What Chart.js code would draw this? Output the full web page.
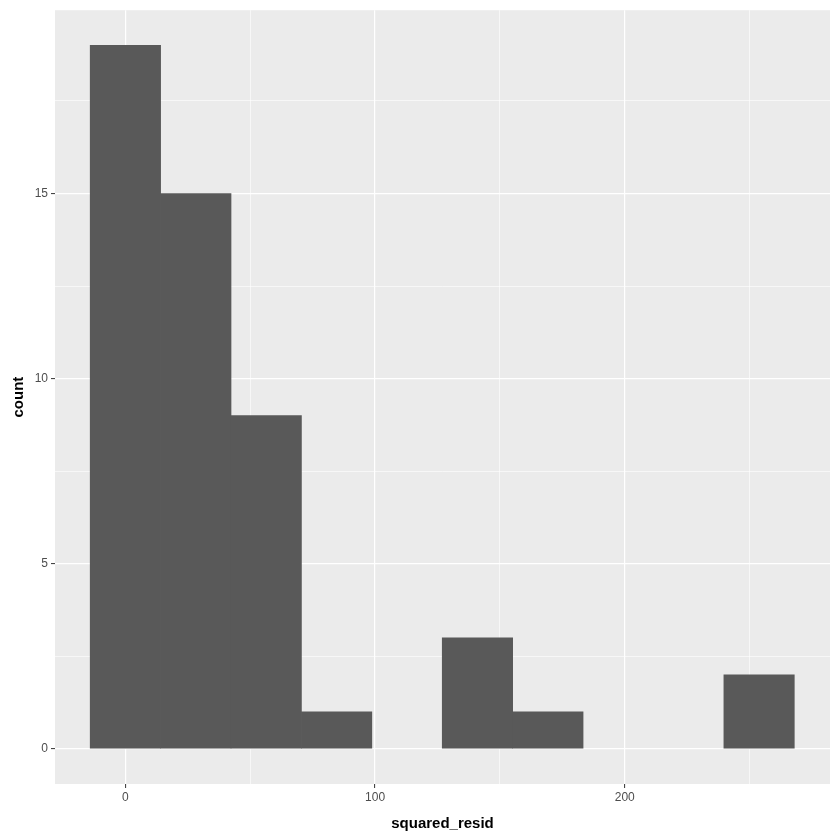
<!DOCTYPE html>
<html>
<head>
<meta charset="utf-8">
<script src="https://cdn.jsdelivr.net/npm/chart.js@4"></script>
<style>
  body { margin: 0; background: #fff; }
</style>
</head>
<body>
<canvas id="hist" width="840" height="840"></canvas>
<script>
// bin centres of the histogram (bin width ~28.2)
const binCenters = [0, 28.2, 56.4, 84.6, 112.8, 141.0, 169.2, 197.4, 225.6, 253.8];
const counts = [19, 15, 9, 1, 0, 3, 1, 0, 0, 2];

const xTicks = [0, 50, 100, 150, 200, 250];
const xLabels = [0, 100, 200];
const yTicks = [0, 2.5, 5, 7.5, 10, 12.5, 15, 17.5];
const yLabels = [0, 5, 10, 15];

const panelBg = {
    id: 'panelBg',
    beforeDraw(chart) {
        const a = chart.chartArea;
        const ctx = chart.ctx;
        ctx.save();
        ctx.fillStyle = '#EBEBEB';
        ctx.fillRect(a.left, a.top, a.right - a.left, a.bottom - a.top);
        ctx.restore();
    }
};

const tickFont = { family: '"Liberation Sans", Arial, sans-serif', size: 12 };
const titleFont = { family: '"Liberation Sans", Arial, sans-serif', size: 15, weight: 'bold' };

const config = {
    type: 'bar',
    data: {
        datasets: [{
            label: 'count',
            data: binCenters.map((x, i) => ({ x: x, y: counts[i] })),
            // empty bins draw nothing
            backgroundColor: c => (c.raw && c.raw.y > 0 ? '#595959' : 'rgba(0,0,0,0)'),
            borderWidth: 0,
            barPercentage: 1,
            categoryPercentage: 1
        }]
    },
    options: {
        responsive: false,
        animation: false,
        layout: { padding: { top: 9, right: 10, left: 0, bottom: 0 } },
        plugins: {
            legend: { display: false },
            tooltip: { enabled: false }
        },
        scales: {
            x: {
                type: 'linear',
                min: -28.2,
                max: 282.2,
                offset: false,
                afterBuildTicks: s => { s.ticks = xTicks.map(v => ({ value: v })); },
                afterFit: s => { s.height = 56; },
                border: { display: false },
                grid: {
                    offset: false,
                    color: '#FFFFFF',
                    lineWidth: c => (xLabels.includes(c.tick && c.tick.value) ? 1.2 : 0.6),
                    tickLength: 4,
                    tickColor: c => (xLabels.includes(c.tick && c.tick.value) ? '#333333' : 'rgba(0,0,0,0)'),
                    tickWidth: 1
                },
                ticks: {
                    autoSkip: false,
                    maxRotation: 0,
                    padding: 2,
                    color: '#4D4D4D',
                    font: tickFont,
                    callback: v => (xLabels.includes(v) ? String(v) : '')
                },
                title: {
                    display: true,
                    text: 'squared_resid',
                    color: '#000000',
                    font: titleFont,
                    padding: { top: 0, bottom: 7 }
                }
            },
            y: {
                type: 'linear',
                min: -0.95,
                max: 19.95,
                afterBuildTicks: s => { s.ticks = yTicks.map(v => ({ value: v })); },
                afterFit: s => { s.width = 55; },
                border: { display: false },
                grid: {
                    color: '#FFFFFF',
                    lineWidth: c => (yLabels.includes(c.tick && c.tick.value) ? 1.2 : 0.6),
                    tickLength: 4,
                    tickColor: c => (yLabels.includes(c.tick && c.tick.value) ? '#333333' : 'rgba(0,0,0,0)'),
                    tickWidth: 1
                },
                ticks: {
                    autoSkip: false,
                    padding: 3,
                    color: '#4D4D4D',
                    font: tickFont,
                    callback: v => (yLabels.includes(v) ? String(v) : '')
                },
                title: {
                    display: true,
                    text: 'count',
                    color: '#000000',
                    font: titleFont,
                    padding: { top: 10, bottom: 0 }
                }
            }
        }
    },
    plugins: [panelBg]
};

const histChart = new Chart(document.getElementById('hist'), config);
</script>
</body>
</html>
